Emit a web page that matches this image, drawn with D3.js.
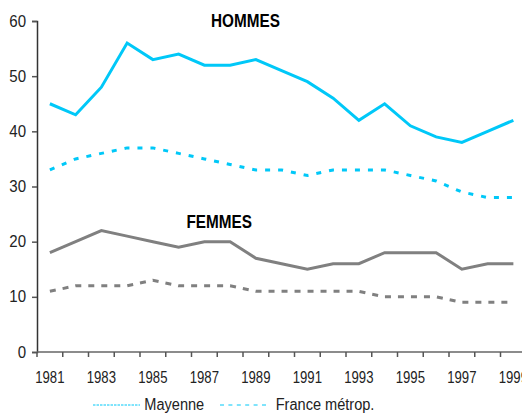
<!DOCTYPE html>
<html>
<head>
<meta charset="utf-8">
<script src="https://cdn.jsdelivr.net/npm/d3@7"></script>
<style>
    body { margin: 0; background: #fff; }
    svg { display: block; font-family: "Liberation Sans Narrow", "Arial Narrow", "Liberation Sans", sans-serif; }
</style>
</head>
<body>
<svg id="chart" width="522" height="414"></svg>
<script>
/* ===== data ===== */
const years = d3.range(1981, 2000);
const labelYears = [1981, 1983, 1985, 1987, 1989, 1991, 1993, 1995, 1997, 1999];
const yTicks = [0, 10, 20, 30, 40, 50, 60];

const hommesMayenne = [45, 43, 48, 56, 53, 54, 52, 52, 53, 51, 49, 46, 42, 45, 41, 39, 38, 40, 42];
const hommesFrance  = [33, 35, 36, 37, 37, 36, 35, 34, 33, 33, 32, 33, 33, 33, 32, 31, 29, 28, 28];
const femmesMayenne = [18, 20, 22, 21, 20, 19, 20, 20, 17, 16, 15, 16, 16, 18, 18, 18, 15, 16, 16];
const femmesFrance  = [11, 12, 12, 12, 13, 12, 12, 12, 11, 11, 11, 11, 11, 10, 10, 10, 9, 9, 9];

const CYAN = "#00c8f8";
const GREY = "#808080";

/* ===== helpers ===== */
// squeeze text horizontally (the original uses a narrow font)
function squeeze(sel, k) {
    sel.each(function () {
        const w = this.getComputedTextLength();
        d3.select(this)
            .attr("textLength", w * k)
            .attr("lengthAdjust", "spacingAndGlyphs");
    });
}

/* ===== setup ===== */
const svg = d3.select("#chart");
const left = 37, step = 25.75;

const x = d3.scaleBand()
    .domain(years)
    .range([left, left + years.length * step]);

const y = d3.scaleLinear()
    .domain([0, 60])
    .range([352, 21]);

const cx = d => x(d) + x.bandwidth() / 2;

// series lines
const line = d3.line()
    .x((d, i) => cx(years[i]))
    .y(d => y(d));

const series = [
    { values: femmesFrance,  color: GREY, dash: "6,7" },
    { values: femmesMayenne, color: GREY, dash: null },
    { values: hommesFrance,  color: CYAN, dash: "5,8" },
    { values: hommesMayenne, color: CYAN, dash: null }
];

series.forEach(s => {
    svg.append("path")
        .datum(s.values)
        .attr("fill", "none")
        .attr("stroke", s.color)
        .attr("stroke-width", 3)
        .attr("stroke-dasharray", s.dash)
        .attr("d", line);
});

/* ===== axes ===== */
const yAxis = svg.append("g")
    .attr("transform", `translate(${left},0)`)
    .call(d3.axisLeft(y).tickValues(yTicks).tickSize(5).tickPadding(6));
yAxis.select(".domain").attr("stroke", "#333").attr("stroke-width", 1.5);
yAxis.selectAll(".tick line").attr("stroke", "#555").attr("stroke-width", 1.5);
yAxis.selectAll("text")
    .attr("font-size", 16).attr("fill", "#222")
    .call(squeeze, 0.94);

const xAxis = svg.append("g")
    .attr("transform", `translate(0,${y(0)})`);
xAxis.append("line")
    .attr("x1", left).attr("x2", 522)
    .attr("stroke", "#666").attr("stroke-width", 1.5);
xAxis.selectAll(".tk")
    .data(years)
    .enter()
    .append("line")
    .attr("x1", d => x(d)).attr("x2", d => x(d))
    .attr("y1", 0).attr("y2", 5)
    .attr("stroke", "#555").attr("stroke-width", 1.5);
xAxis.selectAll(".lbl")
    .data(labelYears)
    .enter()
    .append("text")
    .attr("x", d => cx(d))
    .attr("y", 31)
    .attr("text-anchor", "middle")
    .attr("font-size", 16)
    .attr("fill", "#222")
    .text(d => d)
    .call(squeeze, 0.82);

/* ===== titles ===== */
svg.append("text")
    .attr("x", 245.5).attr("y", 26.7)
    .attr("text-anchor", "middle")
    .attr("font-size", 18).attr("font-weight", "bold")
    .text("HOMMES")
    .call(squeeze, 0.85);

svg.append("text")
    .attr("x", 219.2).attr("y", 227.7)
    .attr("text-anchor", "middle")
    .attr("font-size", 18).attr("font-weight", "bold")
    .text("FEMMES")
    .call(squeeze, 0.85);

/* ===== legend ===== */
const legend = svg.append("g").attr("transform", "translate(0,405)");
legend.append("line")
    .attr("x1", 93).attr("x2", 140)
    .attr("stroke", CYAN).attr("stroke-width", 1)
    .attr("stroke-dasharray", "2.5,1");
legend.append("text")
    .attr("x", 144.3).attr("y", 5)
    .attr("font-size", 16).attr("fill", "#222")
    .text("Mayenne")
    .call(squeeze, 0.91);
legend.append("line")
    .attr("x1", 220).attr("x2", 270)
    .attr("stroke", CYAN).attr("stroke-width", 1)
    .attr("stroke-dasharray", "4,4.4");
legend.append("text")
    .attr("x", 275.7).attr("y", 5)
    .attr("font-size", 16).attr("fill", "#222")
    .text("France métrop.")
    .call(squeeze, 0.91);
</script>
</body>
</html>
